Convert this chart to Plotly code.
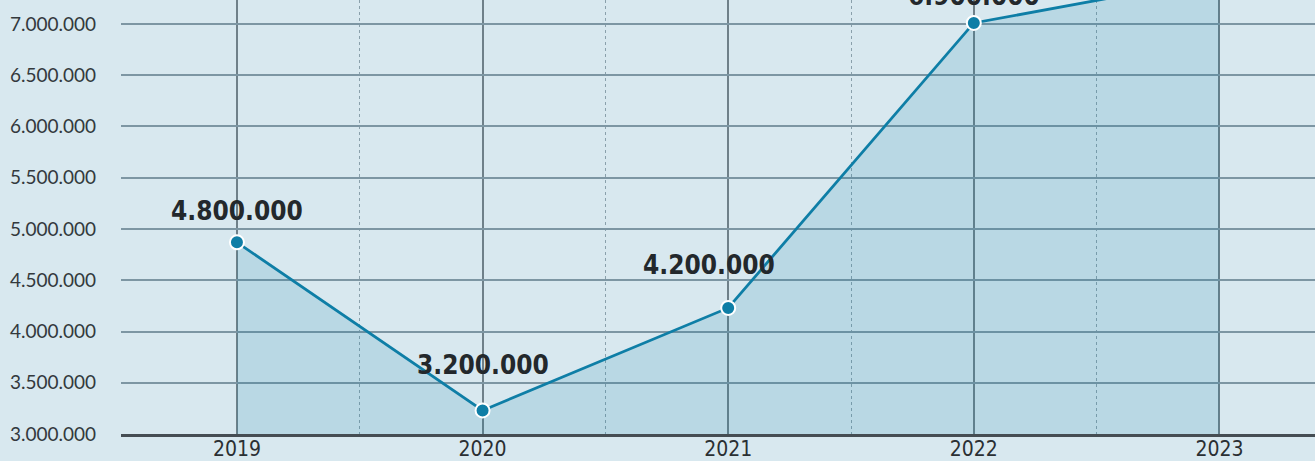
import plotly.graph_objects as go

# ---- data ----
years = ["2019", "2020", "2021", "2022", "2023"]
values = [4870000, 3230000, 4230000, 7010000, 7450000]
labels = ["4.800.000", "3.200.000", "4.200.000", "6.900.000", ""]

# ---- styles ----
label_yshift = [31, 45, 43, 27, 27]
label_xshift = [0, 0, -19, 0, 0]
BG = "#d8e8ef"
LINE = "#0e7ea6"
COND = "DejaVu Sans Condensed, Liberation Sans Narrow, sans-serif"

x_idx = list(range(len(years)))

fig = go.Figure()
fig.add_trace(go.Scatter(
    x=x_idx, y=values,
    mode="lines+markers",
    line=dict(color=LINE, width=2.8),
    marker=dict(size=14, color=LINE, line=dict(color="white", width=2)),
    fill="tozeroy",
    fillcolor="rgba(14,126,166,0.15)",
    cliponaxis=True,
    hoverinfo="skip",
))

for i, (xv, yv, t) in enumerate(zip(x_idx, values, labels)):
    if not t:
        continue
    fig.add_annotation(
        x=xv, y=yv, text=t, showarrow=False,
        yshift=label_yshift[i], xshift=label_xshift[i],
        font=dict(family=COND, size=26, color="#23282c", weight="bold"),
    )

fig.update_layout(
    width=1315, height=461,
    margin=dict(l=121, r=0, t=0, b=27),
    paper_bgcolor=BG, plot_bgcolor=BG,
    showlegend=False,
    separators=",.",
    xaxis=dict(
        range=[-0.472, 4.389],
        tickmode="array", tickvals=x_idx, ticktext=years,
        automargin=False,
        showgrid=True, gridcolor="#6f8089", gridwidth=1.5,
        showline=True, linecolor="#454d53", linewidth=3,
        zeroline=False, ticks="",
        ticklabelstandoff=-6,
        tickfont=dict(family=COND, size=21, color="#2a2f33"),
        minor=dict(tickmode="linear", tick0=0.5, dtick=1, showgrid=True,
                   gridcolor="#8aa0ab", gridwidth=1, griddash="dot"),
    ),
    yaxis=dict(
        range=[3000000, 7234000],
        tickmode="linear", tick0=3000000, dtick=500000,
        tickformat=",d",
        automargin=False,
        showgrid=True, gridcolor="#7d96a3", gridwidth=2,
        zeroline=False, showline=False, ticks="",
        ticklabelstandoff=24,
        tickfont=dict(family="Lato, sans-serif", size=19, color="#33393d"),
    ),
)

fig.write_html("out.html")
